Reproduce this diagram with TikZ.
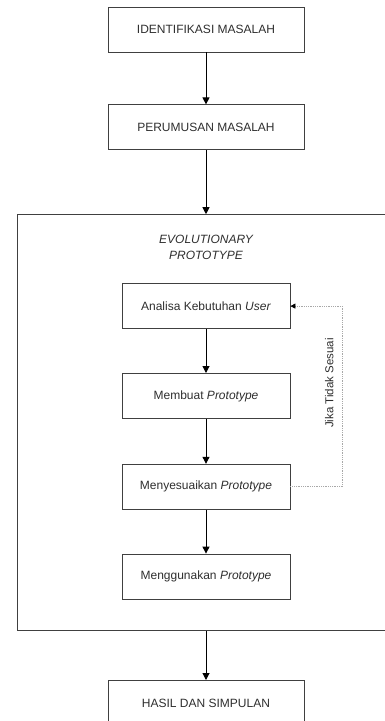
\documentclass[tikz,border=0pt]{standalone}
\usepackage{fontspec}
\setmainfont{Liberation Sans}
\usepackage{xcolor}
\usetikzlibrary{positioning}
\usetikzlibrary{arrows.meta}

\definecolor{garis}{HTML}{404040}
\definecolor{teks}{HTML}{2E2E2E}
\definecolor{titik}{HTML}{A8A8A8}

\tikzset{
  tahap/.style={draw=garis, line width=0.8pt, text=teks, minimum width=196pt,
    minimum height=45pt, inner sep=0pt, font=\fontsize{12}{14}\selectfont},
  proses/.style={tahap, minimum width=168pt},
  panah/.style={-{Triangle[length=7pt,width=7pt]}, line width=1pt, black},
  balikan/.style={-{Triangle[length=5pt,width=5pt,color=black]}, titik,
    densely dotted, line width=0.8pt}
}

\begin{document}
\begin{tikzpicture}
    [x=1pt, y=1pt, node distance=52pt, every node/.style={align=center}]
    \useasboundingbox (0,0) rectangle (385,-721);
    \clip (0,0) rectangle (385,-721);

    \node (identifikasi) [tahap] at (206,-29.5) {IDENTIFIKASI MASALAH};
    \node (perumusan) [tahap, below = of identifikasi] {PERUMUSAN MASALAH};
    \node (bingkai) [draw=garis, line width=0.8pt, minimum width=378pt,
      minimum height=416pt, below = 64pt of perumusan] {};
    \node (judul) [below = 17pt of bingkai.north, text=teks,
      font=\fontsize{12}{16}\selectfont\itshape] {EVOLUTIONARY\\PROTOTYPE};
    \node (analisa) [proses, below = 69pt of bingkai.north] {Analisa Kebutuhan \textit{User}};
    \node (membuat) [proses, below = 44pt of analisa] {Membuat \textit{Prototype}};
    \node (menyesuaikan) [proses, below = 45pt of membuat] {Menyesuaikan \textit{Prototype}};
    \node (menggunakan) [proses, below = 44pt of menyesuaikan] {Menggunakan \textit{Prototype}};
    \node (hasil) [tahap, below = 49pt of bingkai] {HASIL DAN SIMPULAN};

    \path (menyesuaikan.east) ++(52,0) coordinate (balik);
    \node (jika) [rotate=90, anchor=south, text=teks,
      font=\fontsize{11.5}{14}\selectfont] at (337,-383) {Jika Tidak Sesuai};

    \draw [panah] (identifikasi) -- (perumusan);
    \draw [panah] (perumusan) -- (perumusan |- bingkai.north);
    \draw [panah] (analisa) -- (membuat);
    \draw [panah] (membuat) -- (menyesuaikan);
    \draw [panah] (menyesuaikan) -- (menggunakan);
    \draw [panah] (bingkai.south) -- (hasil);
    \draw [balikan] (menyesuaikan.east) -- (balik) |- (analisa.east);
  \end{tikzpicture}
\end{document}
